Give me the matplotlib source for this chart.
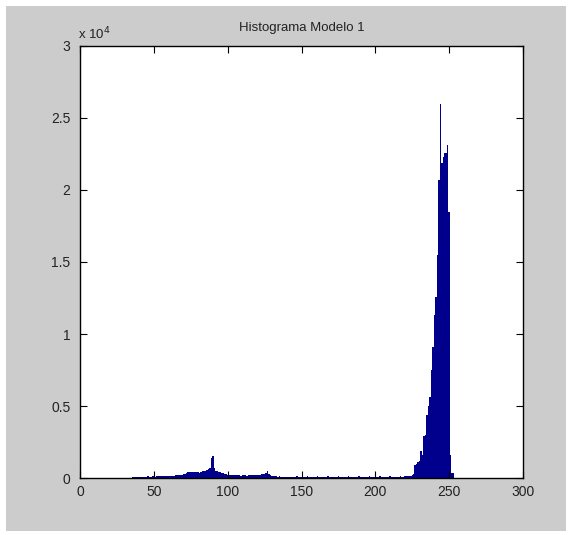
import numpy as np
import matplotlib
matplotlib.use("Agg")
import matplotlib.pyplot as plt
from matplotlib.patches import Rectangle

plt.rcParams['font.family'] = ['Liberation Sans', 'DejaVu Sans']

# cuentas por nivel de gris (0..255)
counts = [
    0, 0, 0, 0, 0, 0, 0, 0, 0, 0, 0, 0, 0, 0, 0, 0,
    0, 0, 0, 0, 0, 0, 0, 0, 0, 0, 0, 0, 0, 0, 0, 0,
    0, 0, 0, 0, 60, 80, 50, 90, 70, 100, 80, 90, 60, 100, 110, 90,
    100, 110, 120, 100, 110, 130, 120, 110, 120, 130, 120, 140, 130, 120, 130, 140,
    150, 180, 220, 230, 220, 240, 260, 300, 380, 420, 440, 450, 420, 400, 390, 400,
    400, 380, 420, 460, 480, 500, 560, 640, 700, 1380, 1530, 700, 520, 460, 420, 400,
    380, 340, 300, 260, 240, 220, 210, 200, 210, 200, 190, 200, 180, 170, 180, 190,
    180, 170, 180, 190, 180, 190, 200, 190, 180, 200, 210, 260, 300, 280, 350, 500,
    300, 200, 160, 130, 120, 110, 100, 110, 100, 90, 100, 90, 100, 90, 100, 90,
    100, 90, 100, 110, 100, 90, 100, 100, 90, 100, 110, 100, 90, 100, 100, 90,
    100, 110, 100, 90, 100, 100, 90, 100, 110, 100, 90, 100, 100, 90, 100, 110,
    100, 90, 100, 100, 90, 100, 110, 100, 90, 100, 100, 90, 100, 110, 100, 90,
    100, 100, 90, 100, 110, 100, 90, 100, 100, 90, 100, 110, 100, 90, 100, 100,
    90, 100, 110, 100, 90, 100, 100, 90, 100, 110, 100, 100, 120, 130, 120, 140,
    160, 210, 250, 900, 1000, 1100, 1150, 1850, 1600, 2900, 3000, 4400, 5000, 5650, 7500, 9100,
    11300, 12600, 15500, 20700, 26000, 21900, 22270, 22550, 22550, 23120, 18490, 1600, 350, 350, 0, 0,
]
levels = np.arange(len(counts))

x_ticks = [0, 50, 100, 150, 200, 250, 300]
y_ticks = [0, 5000, 10000, 15000, 20000, 25000, 30000]
y_labels = ['0', '0.5', '1', '1.5', '2', '2.5', '3']

fig = plt.figure(figsize=(5.69, 5.35), dpi=100, facecolor='white')
# fondo gris de la ventana
fig.add_artist(Rectangle((6 / 569, 4 / 535), 560 / 569, 525 / 535,
                         transform=fig.transFigure, facecolor='#cccccc',
                         edgecolor='none', zorder=-10))

ax = fig.add_axes([80 / 569, 57 / 535, 443 / 569, 432 / 535])
ax.set_zorder(1)
ax.set_facecolor('white')
ax.bar(levels, counts, width=1.0, color='#00008c', linewidth=0)

ax.set_xlim(0, 300)
ax.set_ylim(0, 30000)
ax.set_xticks(x_ticks)
ax.set_xticklabels([str(t) for t in x_ticks])
ax.set_yticks(y_ticks)
ax.set_yticklabels(y_labels)
ax.tick_params(direction='in', length=5, width=0.8, top=True, right=True,
               labelsize=10, labelcolor='#222222')
ax.tick_params(axis='y', pad=7)
ax.tick_params(axis='x', pad=5)
for s in ax.spines.values():
    s.set_linewidth(1.0)
    s.set_color('black')

ax.set_title('Histograma Modelo 1', fontsize=9.5, color='#222222', pad=11)
ax.text(-0.005, 1.008, r'x 10$^4$', transform=ax.transAxes, fontsize=9.5,
        color='#222222', ha='left', va='bottom')

fig.savefig('out.png', dpi=100, facecolor=fig.get_facecolor())
